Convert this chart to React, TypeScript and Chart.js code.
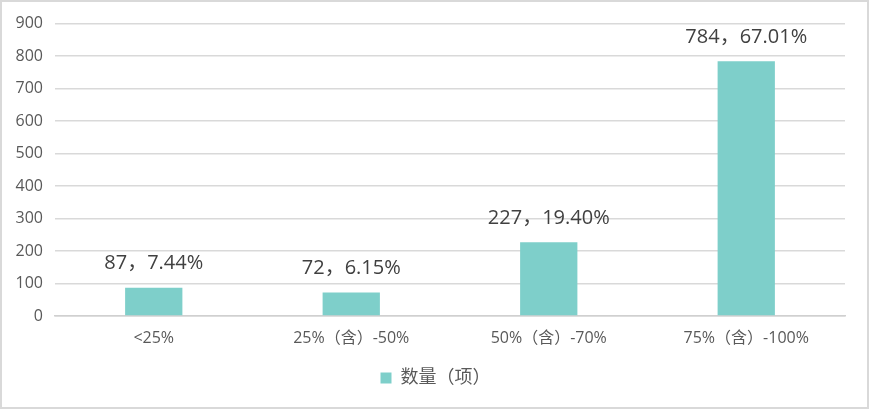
import React, { useEffect, useRef } from "react";
import { Chart, registerables } from "chart.js";

Chart.register(...registerables);

const categories = ["<25%", "25%（含）-50%", "50%（含）-70%", "75%（含）-100%"];
const counts = [87, 72, 227, 784];
const percents = ["7.44%", "6.15%", "19.40%", "67.01%"];
const seriesName = "数量（项）";
const yTicks = [0, 100, 200, 300, 400, 500, 600, 700, 800, 900];

const FONT = '"Open Sans", "Noto Sans CJK SC", sans-serif';

const labelPlugin = {
  id: "barLabels",
  afterDatasetsDraw(chart: any) {
    const ctx = chart.ctx;
    const meta = chart.getDatasetMeta(0);
    ctx.save();
    ctx.font = `20px ${FONT}`;
    ctx.fillStyle = "#404040";
    ctx.textAlign = "center";
    ctx.textBaseline = "middle";
    meta.data.forEach((el: any, i: number) => {
      ctx.fillText(`${counts[i]}，${percents[i]}`, el.x, el.y - 24);
    });
    ctx.restore();
  },
};

export default function App() {
  const ref = useRef<HTMLCanvasElement | null>(null);
  useEffect(() => {
    document.body.style.margin = "0";
    const chart = new Chart(ref.current as HTMLCanvasElement, {
      type: "bar",
      data: {
        labels: categories,
        datasets: [
          {
            label: seriesName,
            data: counts,
            backgroundColor: "#7ECFCA",
            categoryPercentage: 1,
            barPercentage: 0.29,
          },
        ],
      },
      options: {
        animation: false,
        responsive: false,
        maintainAspectRatio: false,
        layout: { padding: { top: 21, right: 8, bottom: 10, left: 10 } },
        plugins: {
          tooltip: { enabled: false },
          legend: {
            position: "bottom",
            labels: {
              boxWidth: 11,
              boxHeight: 11,
              padding: 10,
              color: "#595959",
              font: { size: 18, family: FONT },
            },
          },
        },
        scales: {
          x: {
            grid: { display: false, drawTicks: false },
            border: { color: "#d0d0d0", width: 1.5 },
            ticks: { color: "#595959", font: { size: 16, family: FONT }, padding: 13 },
            afterFit(s: any) {
              s.height = 43;
            },
          },
          y: {
            min: 0,
            max: 900,
            afterBuildTicks(s: any) {
              s.ticks = yTicks.map((v) => ({ value: v }));
            },
            grid: { color: "#d9d9d9", lineWidth: 1.5, drawTicks: false },
            border: { display: false },
            ticks: { color: "#595959", font: { size: 16, family: FONT }, padding: 12 },
            afterFit(s: any) {
              s.width = 43;
            },
          },
          yRight: {
            type: "linear",
            position: "right",
            display: true,
            grid: { display: false, drawTicks: false },
            border: { display: false },
            ticks: { display: false },
            afterFit(s: any) {
              s.width = 14;
            },
          },
        },
      },
      plugins: [labelPlugin],
    } as any);
    return () => chart.destroy();
  }, []);
  return (
    <div
      style={{
        position: "absolute",
        left: 0,
        top: 0,
        width: 869,
        height: 409,
        boxSizing: "border-box",
        border: "2px solid #d9d9d9",
        background: "#fff",
      }}
    >
      <canvas ref={ref} width={865} height={405} style={{ display: "block" }} />
    </div>
  );
}
